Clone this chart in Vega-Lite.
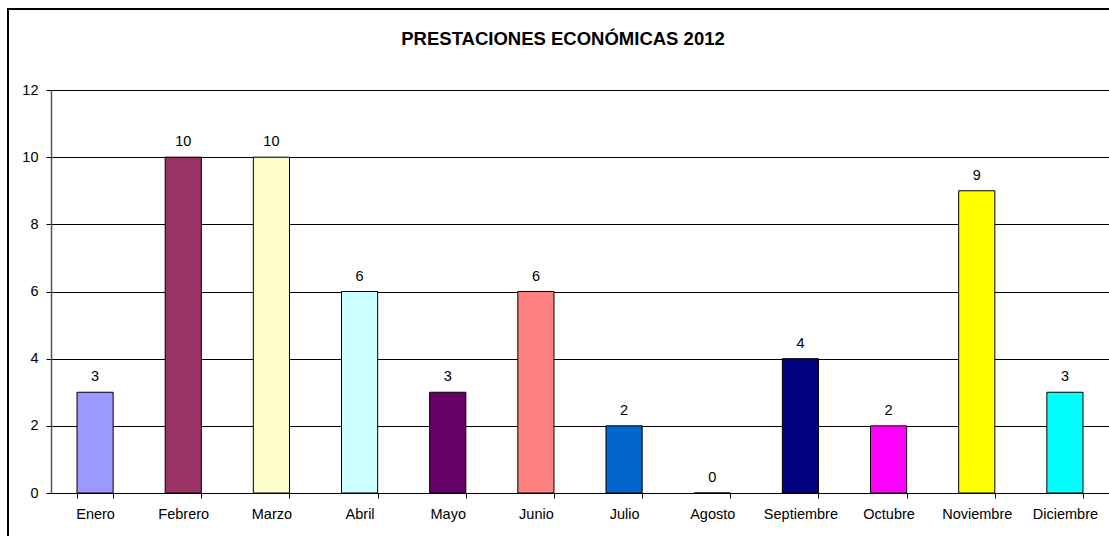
{
  "$schema": "https://vega.github.io/schema/vega-lite/v6.json",
  "autosize": {"type": "none"},
  "padding": {"left": 8, "top": 9, "right": 0, "bottom": 0},
  "width": 1110,
  "height": 530,
  "background": "white",
  "title": {
    "text": "PRESTACIONES ECONÓMICAS 2012",
    "font": "Liberation Sans",
    "fontSize": 18.5,
    "fontWeight": "bold",
    "color": "black",
    "anchor": "middle",
    "frame": "group",
    "baseline": "alphabetic",
    "offset": -54
  },
  "config": {
    "view": {"stroke": "black", "strokeWidth": 2},
    "font": "Liberation Sans",
    "axis": {"labelFont": "Liberation Sans", "labelFontSize": 14.5, "labelColor": "black"}
  },
  "data": {
    "values": [
      {"mes": "Enero", "valor": 3},
      {"mes": "Febrero", "valor": 10},
      {"mes": "Marzo", "valor": 10},
      {"mes": "Abril", "valor": 6},
      {"mes": "Mayo", "valor": 3},
      {"mes": "Junio", "valor": 6},
      {"mes": "Julio", "valor": 2},
      {"mes": "Agosto", "valor": 0},
      {"mes": "Septiembre", "valor": 4},
      {"mes": "Octubre", "valor": 2},
      {"mes": "Noviembre", "valor": 9},
      {"mes": "Diciembre", "valor": 3}
    ]
  },
  "encoding": {
    "x": {
      "field": "mes",
      "type": "nominal",
      "sort": ["Enero", "Febrero", "Marzo", "Abril", "Mayo", "Junio", "Julio", "Agosto", "Septiembre", "Octubre", "Noviembre", "Diciembre"],
      "scale": {"range": [43, 1101], "paddingInner": 0.59, "paddingOuter": 0.295},
      "axis": {
        "title": null,
        "orient": "bottom",
        "offset": -46,
        "labelAngle": 0,
        "domainColor": "black",
        "domainWidth": 1,
        "tickColor": "black",
        "tickSize": 5,
        "tickBand": "extent",
        "labelPadding": 9,
        "grid": false
      }
    },
    "y": {
      "field": "valor",
      "type": "quantitative",
      "scale": {"domain": [0, 12], "range": [484, 81], "nice": false},
      "axis": {
        "title": null,
        "orient": "left",
        "offset": -43,
        "values": [0, 2, 4, 6, 8, 10, 12],
        "grid": true,
        "gridColor": "black",
        "gridWidth": 1,
        "gridOpacity": 1,
        "domainColor": "#555555",
        "domainWidth": 1.5,
        "tickColor": "black",
        "tickSize": 5,
        "labelPadding": 8
      }
    }
  },
  "layer": [
    {
      "mark": {"type": "bar", "stroke": "black", "strokeWidth": 1, "opacity": 1},
      "encoding": {
        "color": {
          "field": "mes",
          "type": "nominal",
          "legend": null,
          "scale": {
            "domain": ["Enero", "Febrero", "Marzo", "Abril", "Mayo", "Junio", "Julio", "Agosto", "Septiembre", "Octubre", "Noviembre", "Diciembre"],
            "range": ["#9999FF", "#993366", "#FFFFCC", "#CCFFFF", "#660066", "#FF8080", "#0066CC", "#CCCCFF", "#000080", "#FF00FF", "#FFFF00", "#00FFFF"]
          }
        }
      }
    },
    {
      "mark": {"type": "text", "baseline": "alphabetic", "dy": -11, "fontSize": 14.5, "font": "Liberation Sans", "color": "black"},
      "encoding": {"text": {"field": "valor", "type": "quantitative"}}
    }
  ]
}
